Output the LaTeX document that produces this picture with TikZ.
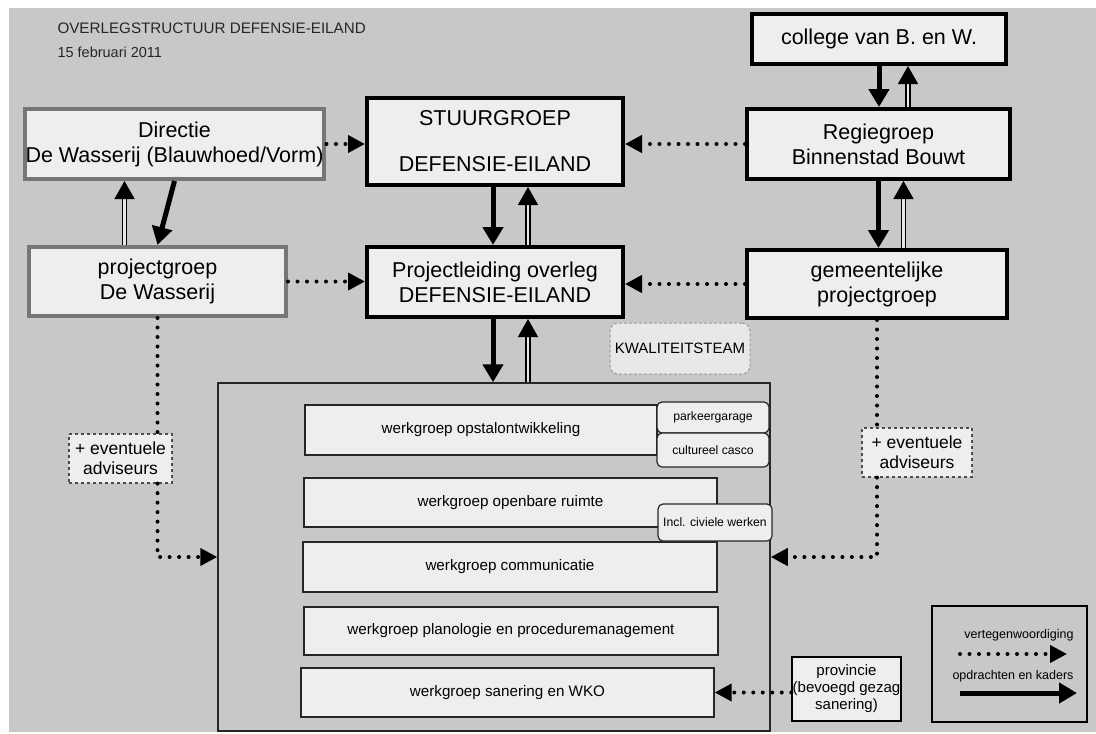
\documentclass[tikz,border=0pt]{standalone}
\usepackage{fontspec}
\setmainfont{Liberation Sans}
\usetikzlibrary{arrows.meta,positioning,calc}
\definecolor{scanbg}{RGB}{200,200,200}
\definecolor{boxfill}{RGB}{238,238,238}
\definecolor{greyline}{RGB}{118,118,118}
\newcommand{\fsz}[2]{\fontsize{#1}{#2}\selectfont}

\begin{document}
\begin{tikzpicture}[x=1pt, y=-1pt,
    box/.style={rectangle, draw=black, line width=4pt, fill=boxfill, align=center,
      inner sep=1pt, font=\fsz{21.5}{25}},
    greybox/.style={box, draw=greyline},
    wgbox/.style={rectangle, draw=black!85, line width=1.4pt, fill=boxfill, font=\fsz{15.2}{18}},
    tagbox/.style={rectangle, rounded corners=5pt, draw=black!85, line width=1.2pt, fill=boxfill,
      font=\fsz{12.2}{14}},
    advbox/.style={rectangle, draw=black!70, dashed, line width=1.2pt, fill=boxfill, align=center,
      inner sep=1pt, font=\fsz{17.5}{20}},
    arr/.style={-{Triangle[length=18pt,width=20pt]}, line width=5pt},
    backarr/.style={-{Triangle[length=18pt,width=20pt]}, line width=1.5pt, double=boxfill!85!scanbg,
      double distance=2.5pt},
    dotline/.style={line width=4pt, line cap=round, dash pattern=on 0pt off 9.5pt},
    dotarr/.style={dotline, -{Triangle[length=17pt,width=17pt]}}
  ]
  \useasboundingbox (0,0) rectangle (1096,734);
  \fill[scanbg] (9,8) rectangle (1096,732);

  \node[anchor=base west, font=\fsz{15.2}{18}, text=black!85] (title) at (54,33) {OVERLEGSTRUCTUUR DEFENSIE-EILAND};
  \node[anchor=base west, font=\fsz{14.5}{17}, text=black!85] (date) at (54,57) {15 februari 2011};

  % bovenste lagen
  \node[greybox, minimum width=291pt, minimum height=70pt] (dir)   at (174.5,144) {Directie\\De Wasserij (Blauwhoed/Vorm)};
  \node[greybox, minimum width=257pt, minimum height=69pt] (pgwas) at (157.5,281.5) {projectgroep\\De Wasserij};
  \node[box, minimum width=256pt, minimum height=87pt]     (stuur) at (495,141.5) {STUURGROEP\\[21pt]DEFENSIE-EILAND};
  \node[box, minimum width=256pt, minimum height=70pt]     (pleid) at (495,282) {Projectleiding overleg\\DEFENSIE-EILAND};
  \node[box, minimum width=254pt, minimum height=50pt]     (college) at (879,39) {college van B. en W.};
  \node[box, minimum width=263pt, minimum height=70pt]     (regie) at (878.5,144) {Regiegroep\\Binnenstad Bouwt};
  \node[box, minimum width=260pt, minimum height=68pt]     (gem)   at (877,284) {gemeentelijke\\projectgroep};

  \node[rectangle, rounded corners=8pt, draw=black!40, densely dashed, line width=1pt, fill=boxfill!85!scanbg,
    minimum width=140pt, minimum height=51pt, inner sep=1pt, font=\fsz{15}{17}] (kwal) at (680,348.5) {KWALITEITSTEAM};

  % werkgroepen
  \node[draw=black!85, line width=1.5pt, minimum width=552pt, minimum height=348pt] (werk) at (494,557) {};
  \node[wgbox, minimum width=352pt, minimum height=50pt] (wg1) at (481,430) {werkgroep opstalontwikkeling};
  \node[wgbox, minimum width=413pt, minimum height=49pt] (wg2) at (510.5,502.5) {werkgroep openbare ruimte};
  \node[wgbox, minimum width=414pt, minimum height=50pt] (wg3) at (510,567) {werkgroep communicatie};
  \node[wgbox, minimum width=414pt, minimum height=48pt] (wg4) at (511,631) {werkgroep planologie en proceduremanagement};
  \node[wgbox, minimum width=413pt, minimum height=49pt] (wg5) at (507.5,692.5) {werkgroep sanering en WKO};

  \node[tagbox, minimum width=112pt, minimum height=31pt] (park)   at (713,417.5) {parkeergarage};
  \node[tagbox, minimum width=112pt, minimum height=34pt] (casco)  at (713,450) {cultureel casco};
  \node[tagbox, minimum width=114pt, minimum height=37pt, inner sep=1pt] (civiel) at (715,522.5) {Incl. civiele werken};

  \node[advbox, minimum width=103pt, minimum height=49pt] (advl) at (120.5,458.5) {+ eventuele\\adviseurs};
  \node[advbox, minimum width=110pt, minimum height=49pt] (advr) at (917,452.5) {+ eventuele\\adviseurs};

  \node[rectangle, draw=black, line width=1.5pt, fill=boxfill, minimum width=109pt, minimum height=64pt,
    align=center, inner sep=0pt, font=\fsz{15}{17}] (prov) at (846.5,689) {provincie\\(bevoegd gezag\\sanering)};

  % legenda
  \node[draw=black, line width=1.5pt, minimum width=155pt, minimum height=116pt] (legend) at (1009.5,664) {};
  \node[font=\fsz{12.5}{14}] (lvert) at (1019,635) {vertegenwoordiging};
  \node[font=\fsz{12.5}{14}] (lopdr) at (1013,676) {opdrachten en kaders};
  \coordinate (l1a) at (960,654);
  \coordinate (l1b) at (1067,654);
  \coordinate (l2a) at (960,693);
  \coordinate (l2b) at (1077,693);
  \draw[dotarr] (l1a) -- (l1b);
  \draw[arr] (l2a) -- (l2b);

  % opdrachten en kaders
  \draw[backarr] ([xshift=-33pt]pgwas.north) -- ([xshift=-50pt]dir.south);
  \draw[arr] (dir.south) -- (pgwas.north);
  \draw[arr] ([xshift=-2pt]stuur.south) -- ([xshift=-2pt]pleid.north);
  \draw[backarr] ([xshift=33pt]pleid.north) -- ([xshift=33pt]stuur.south);
  \draw[arr] ([xshift=-2pt]pleid.south) -- ([xshift=-2pt]pleid.south |- werk.north);
  \draw[backarr] ([xshift=33pt]pleid.south |- werk.north) -- ([xshift=33pt]pleid.south);
  \draw[arr] (college.south) -- (college.south |- regie.north);
  \draw[backarr] ([xshift=29pt]college.south |- regie.north) -- ([xshift=29pt]college.south);
  \draw[arr] (regie.south) -- (regie.south |- gem.north);
  \draw[backarr] ([xshift=25pt]regie.south |- gem.north) -- ([xshift=25pt]regie.south);

  % vertegenwoordiging
  \draw[dotarr] (dir.east) -- (dir.east -| stuur.west);
  \draw[dotarr] (regie.west) -- (regie.west -| stuur.east);
  \draw[dotarr] (pgwas.east) -- (pgwas.east -| pleid.west);
  \draw[dotarr] (gem.west) -- (gem.west -| pleid.east);
  \draw[dotarr] (wg5.east -| prov.west) -- (wg5.east);
  \draw[dotline] (pgwas.south) -- (pgwas.south |- advl.north);
  \draw[dotarr] (pgwas.south |- advl.south) |- (werk.west);
  \draw[dotline] (gem.south) -- (gem.south |- advr.north);
  \draw[dotarr] (gem.south |- advr.south) |- (werk.east);
\end{tikzpicture}
\end{document}
